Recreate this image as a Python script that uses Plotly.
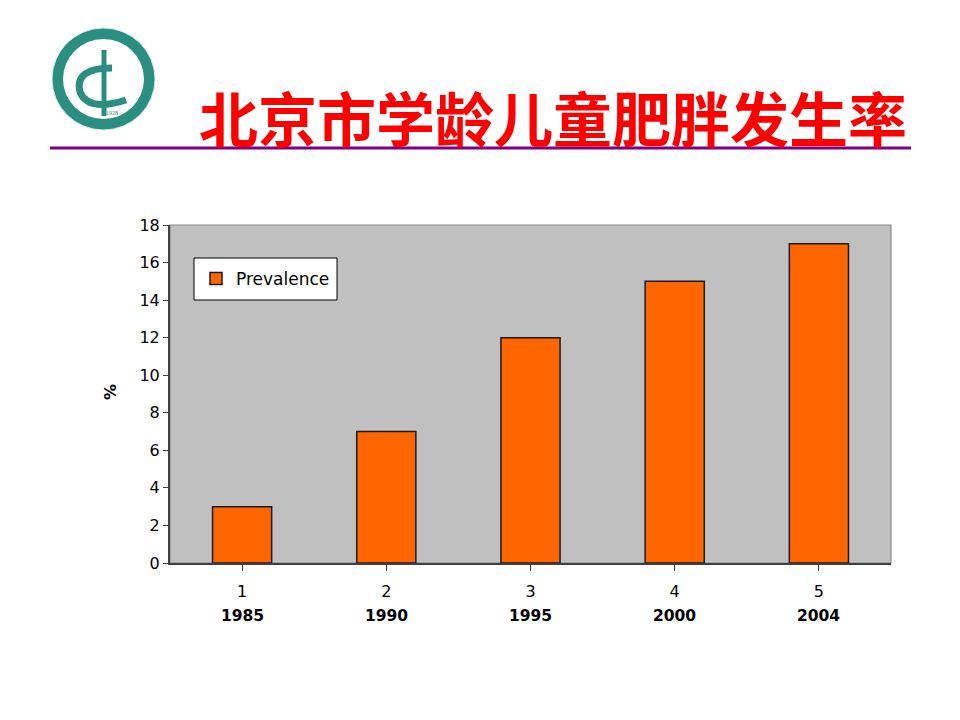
import plotly.graph_objects as go

# chart data
categories = ["1", "2", "3", "4", "5"]
years = ["1985", "1990", "1995", "2000", "2004"]
prevalence = [3, 7, 12, 15, 17]
series_name = "Prevalence"
title_text = "北京市学龄儿童肥胖发生率"

W, H = 960, 720
OFF = 8                           # page body margin
L, R, T, B = 170, 891, 225, 563   # plot area in page pixels


def px(x):
    return (x - L) / (R - L)


def py(y):
    return (B - y) / (B - T)


fig = go.Figure()
fig.add_trace(go.Bar(
    x=list(range(len(categories))), y=prevalence, name=series_name,
    marker=dict(color="#FF6600", line=dict(color="#1a1a1a", width=1.5)),
    showlegend=True,
))

TEAL = "#2a8f80"
shapes = [
    # plot border
    dict(type="rect", xref="paper", yref="paper", x0=0, x1=1, y0=0, y1=1,
         line=dict(color="#8a8a8a", width=1.2), layer="below"),
    # legend box
    dict(type="rect", xref="paper", yref="paper", x0=px(194), x1=px(337),
         y0=py(300), y1=py(258), fillcolor="white",
         line=dict(color="black", width=1), layer="above"),
    # purple rule under title
    dict(type="line", xref="paper", yref="paper", x0=px(50), x1=px(911),
         y0=py(148), y1=py(148), line=dict(color="#800080", width=3)),
    # logo
    dict(type="circle", xref="paper", yref="paper", x0=px(52), x1=px(155),
         y0=py(130), y1=py(28), fillcolor=TEAL, line=dict(color="#d8ece8", width=1)),
    dict(type="circle", xref="paper", yref="paper", x0=px(63), x1=px(144),
         y0=py(119), y1=py(39), fillcolor="white", line=dict(width=0)),
    dict(type="path", xref="paper", yref="paper",
         path="M {},{} Q {},{} {},{} Q {},{} {},{}".format(
             px(112), py(68), px(74), py(68), px(80), py(92),
             px(88), py(112), px(126), py(100)),
         line=dict(color=TEAL, width=7)),
    dict(type="line", xref="paper", yref="paper", x0=px(104), x1=px(104),
         y0=py(50), y1=py(116), line=dict(color=TEAL, width=5)),
]

FONT = "DejaVu Sans"
annotations = [
    dict(text="<b>%</b>", xref="paper", yref="paper", x=px(110), y=py(392),
         showarrow=False, textangle=-90, font=dict(size=16, color="black", family=FONT),
         xanchor="center", yanchor="middle"),
    dict(text="1928", xref="paper", yref="paper", x=px(104), y=py(108),
         showarrow=False, font=dict(size=6, color=TEAL, family="Liberation Serif")),
]
for i, yr in enumerate(years):
    annotations.append(dict(
        text="<b>" + yr + "</b>", x=i, xref="x", y=0, yref="paper",
        yshift=-(616 - B), showarrow=False, yanchor="middle",
        font=dict(size=15.5, color="black", family=FONT)))

fig.update_layout(
    width=W, height=H,
    margin=dict(l=L - OFF, r=W + OFF - R, t=T - OFF, b=H + OFF - B, autoexpand=False),
    paper_bgcolor="white", plot_bgcolor="#C0C0C0",
    font=dict(family=FONT, size=16, color="black"),
    title=dict(text="<b>" + title_text + "</b>", xref="paper", yref="container",
               x=px(553), xanchor="center", y=1 - (121 - OFF) / H, yanchor="middle",
               font=dict(family="Noto Sans CJK SC", size=59, color="#FF0000")),
    bargap=0.59,
    xaxis=dict(tickmode="array", tickvals=list(range(len(categories))),
               ticktext=categories, range=[-0.5, len(categories) - 0.5],
               ticks="outside", ticklen=6, tickson="boundaries",
               tickcolor="#404040", showline=True, linecolor="#404040", linewidth=2,
               showgrid=False, zeroline=False, tickfont=dict(size=16),
               ticklabelstandoff=7),
    yaxis=dict(range=[0, 18], dtick=2, ticks="outside", ticklen=5, tickcolor="#404040",
               showline=True, linecolor="#404040", linewidth=2, showgrid=False,
               zeroline=False, tickfont=dict(size=16)),
    legend=dict(x=px(196), y=py(279), xanchor="left", yanchor="middle",
                bgcolor="rgba(0,0,0,0)", borderwidth=0,
                font=dict(size=17), itemwidth=30),
    shapes=shapes, annotations=annotations,
)

fig.write_html("out.html")
